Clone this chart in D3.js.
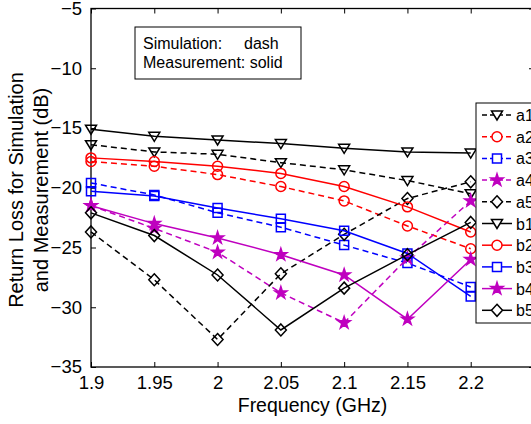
<!DOCTYPE html>
<html>
<head>
<meta charset="utf-8">
<script src="https://cdn.jsdelivr.net/npm/d3@7"></script>
<style>
  body { margin: 0; background: #fff; }
  svg { display: block; font-family: Arial, "Liberation Sans", sans-serif; }
</style>
</head>
<body>
<svg></svg>
<script>
const WIDTH = 531;
const HEIGHT = 424;

// Frequency points (GHz)
const freq = [1.9, 1.95, 2.0, 2.05, 2.1, 2.15, 2.2];

// Simulation (dashed)
const a1 = [-16.4, -17.0, -17.2, -17.9, -18.5, -19.4, -20.5];
const a2 = [-17.8, -18.2, -18.9, -19.9, -21.1, -23.2, -25.1];
const a3 = [-19.6, -20.6, -22.1, -23.3, -24.8, -26.3, -28.3];
const a4 = [-21.5, -23.4, -25.4, -28.8, -31.3, -25.9, -21.1];
const a5 = [-23.7, -27.7, -32.7, -27.2, -23.9, -20.9, -19.5];
// Measurement (solid)
const b1 = [-15.1, -15.7, -16.0, -16.3, -16.7, -17.0, -17.1];
const b2 = [-17.5, -17.8, -18.2, -18.8, -19.9, -21.6, -23.7];
const b3 = [-20.3, -20.7, -21.7, -22.6, -23.6, -25.5, -29.1];
const b4 = [-21.5, -23.0, -24.2, -25.6, -27.3, -31.0, -26.0];
const b5 = [-22.1, -24.0, -27.3, -31.9, -28.4, -25.6, -22.9];

const xTicks = [1.9, 1.95, 2, 2.05, 2.1, 2.15, 2.2, 2.25];
const xTickLabels = ['1.9', '1.95', '2', '2.05', '2.1', '2.15', '2.2', ''];
const yTicks = [-35, -30, -25, -20, -15, -10, -5];

const series = [
  {name: 'a1', values: a1, color: '#000', marker: 'tri', dashed: true},
  {name: 'a2', values: a2, color: '#f00', marker: 'circle', dashed: true},
  {name: 'a3', values: a3, color: '#00f', marker: 'square', dashed: true},
  {name: 'a4', values: a4, color: '#bf00bf', marker: 'star', dashed: true},
  {name: 'a5', values: a5, color: '#000', marker: 'diamond', dashed: true},
  {name: 'b1', values: b1, color: '#000', marker: 'tri', dashed: false},
  {name: 'b2', values: b2, color: '#f00', marker: 'circle', dashed: false},
  {name: 'b3', values: b3, color: '#00f', marker: 'square', dashed: false},
  {name: 'b4', values: b4, color: '#bf00bf', marker: 'star', dashed: false},
  {name: 'b5', values: b5, color: '#000', marker: 'diamond', dashed: false},
];

const margin = {top: 8.5, right: -3, bottom: 57, left: 91};

// marker shapes in MATLAB style
function markerPath(type) {
  switch (type) {
    case 'tri': return 'M-5.5,-4L5.5,-4L0,5Z';
    case 'circle': return d3.symbol(d3.symbolCircle, 78)();
    case 'square': return 'M-4.5,-4.5H4.5V4.5H-4.5Z';
    case 'star': return d3.symbol(d3.symbolStar, 46)();
    case 'diamond': return 'M0,-6L5.5,0L0,6L-5.5,0Z';
  }
}

window.onload = () => {
  const svg = d3.select('svg')
      .attr('width', WIDTH)
      .attr('height', HEIGHT);

  const x = d3.scaleLinear()
      .domain([1.9, 2.25])
      .range([margin.left, WIDTH - margin.right]);
  const y = d3.scaleLinear()
      .domain([-35, -5])
      .range([HEIGHT - margin.bottom, margin.top]);

  // axes: ticks point inward, mirrored on top and right
  svg.append('g')
      .attr('transform', `translate(0,${y(-35)})`)
      .call(d3.axisBottom(x).tickValues(xTicks).tickSize(-5).tickPadding(9)
        .tickFormat((d, i) => xTickLabels[i]))
      .call((g) => g.select('.domain').remove());
  svg.append('g')
      .attr('transform', `translate(0,${y(-5)})`)
      .call(d3.axisTop(x).tickValues(xTicks).tickSize(-5).tickFormat(''))
      .call((g) => g.select('.domain').remove());
  svg.append('g')
      .attr('transform', `translate(${x(1.9)},0)`)
      .call(d3.axisLeft(y).tickValues(yTicks).tickSize(-5).tickPadding(9))
      .call((g) => g.select('.domain').remove());
  svg.append('g')
      .attr('transform', `translate(${x(2.25)},0)`)
      .call(d3.axisRight(y).tickValues(yTicks).tickSize(-5).tickFormat(''))
      .call((g) => g.select('.domain').remove());

  svg.selectAll('.tick line').attr('stroke', '#000').attr('stroke-width', 1);
  svg.selectAll('.tick text')
      .attr('fill', '#000')
      .style('font-size', '18.5px');

  svg.append('rect')
      .attr('x', x(1.9))
      .attr('y', y(-5))
      .attr('width', x(2.25) - x(1.9))
      .attr('height', y(-35) - y(-5))
      .attr('fill', 'none')
      .attr('stroke', '#000')
      .attr('stroke-width', 1.3);

  // lines + markers
  const line = d3.line()
      .x((d, i) => x(freq[i]))
      .y((d) => y(d));

  const sg = svg.append('g').selectAll('g')
      .data(series)
      .enter().append('g');

  sg.append('path')
      .attr('d', (s) => line(s.values))
      .attr('fill', 'none')
      .attr('stroke', (s) => s.color)
      .attr('stroke-width', 1.5)
      .attr('stroke-dasharray', (s) => s.dashed ? '6,4' : null);

  sg.each(function(s) {
    d3.select(this).selectAll('.mk')
        .data(s.values)
        .enter().append('path')
        .attr('class', 'mk')
        .attr('transform', (d, i) => `translate(${x(freq[i])},${y(d)})`)
        .attr('d', markerPath(s.marker))
        .attr('fill', s.marker === 'star' ? s.color : 'none')
        .attr('stroke', s.color)
        .attr('stroke-width', 1.5);
  });

  // annotation box
  const note = svg.append('g');
  note.append('rect')
      .attr('x', 135).attr('y', 27)
      .attr('width', 166).attr('height', 52)
      .attr('fill', '#fff')
      .attr('stroke', '#000')
      .attr('stroke-width', 1);
  note.append('text').attr('x', 143).attr('y', 49)
      .style('font-size', '16px').text('Simulation:');
  note.append('text').attr('x', 244).attr('y', 49)
      .style('font-size', '16px').text('dash');
  note.append('text').attr('x', 143).attr('y', 68)
      .style('font-size', '16px').text('Measurement: solid');

  // legend
  const legend = svg.append('g');
  legend.append('rect')
      .attr('x', 476).attr('y', 103)
      .attr('width', 80).attr('height', 220)
      .attr('fill', '#fff')
      .attr('stroke', '#000')
      .attr('stroke-width', 1);
  const li = legend.selectAll('.li')
      .data(series)
      .enter().append('g')
      .attr('class', 'li')
      .attr('transform', (s, i) => `translate(0,${115 + i * 21.7})`);
  li.append('line')
      .attr('x1', 482).attr('x2', 512)
      .attr('stroke', (s) => s.color)
      .attr('stroke-width', 1.5)
      .attr('stroke-dasharray', (s) => s.dashed ? '5,3' : null);
  li.append('path')
      .attr('transform', 'translate(497,0)')
      .attr('d', (s) => markerPath(s.marker))
      .attr('fill', (s) => s.marker === 'star' ? s.color : '#fff')
      .attr('stroke', (s) => s.color)
      .attr('stroke-width', 1.5);
  li.append('text')
      .attr('x', 516).attr('y', 6)
      .style('font-size', '16px')
      .text((s) => s.name);

  // axis titles
  svg.append('text')
      .attr('x', x(2.075)).attr('y', 412)
      .attr('text-anchor', 'middle')
      .style('font-size', '19.5px')
      .text('Frequency (GHz)');
  svg.append('text')
      .attr('transform', 'translate(23,190) rotate(-90)')
      .attr('text-anchor', 'middle')
      .style('font-size', '20px')
      .text('Return Loss for Simulation');
  svg.append('text')
      .attr('transform', 'translate(48,190) rotate(-90)')
      .attr('text-anchor', 'middle')
      .style('font-size', '20px')
      .text('and Measurement (dB)');
};
</script>
</body>
</html>
